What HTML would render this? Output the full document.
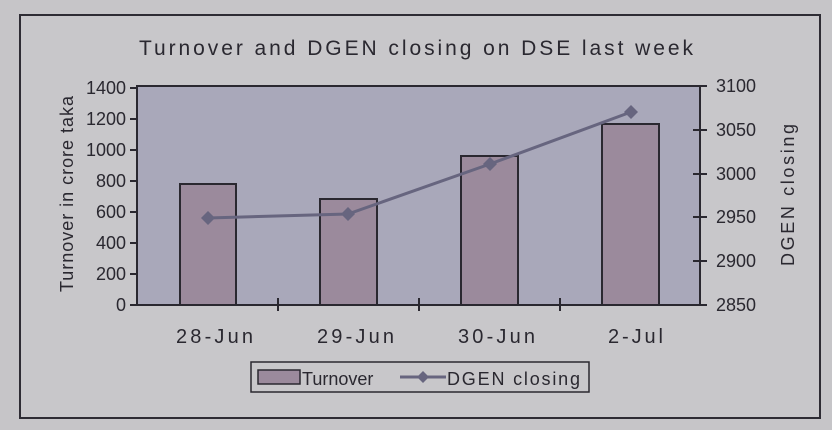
<!DOCTYPE html>
<html><head><meta charset="utf-8"><style>
html,body{margin:0;padding:0;background:#c6c5c8;}
svg{display:block;font-family:"Liberation Sans",sans-serif;}
</style></head><body>
<svg width="832" height="430" viewBox="0 0 832 430">
<rect width="832" height="430" fill="#c6c5c8"/>
<rect x="20" y="15" width="800" height="403" fill="#c8c7ca" stroke="#2e2c34" stroke-width="2"/>
<text x="139" y="55" font-size="21" textLength="554" lengthAdjust="spacing" fill="#2a2830">Turnover and DGEN closing on DSE last week</text>
<rect x="137" y="86" width="563" height="219" fill="#a9a8ba" stroke="#2a2830" stroke-width="2"/>
<g fill="#9b8a9c" stroke="#2a2830" stroke-width="2">
<rect x="180" y="184" width="56" height="121"/>
<rect x="320" y="199" width="57" height="106"/>
<rect x="461" y="156" width="57" height="149"/>
<rect x="602" y="124" width="57" height="181"/>
</g>
<polyline points="208,218 348,214 490,164 631,112" fill="none" stroke="#67657f" stroke-width="3"/>
<g fill="#67657f">
<path d="M208,211 l7,7 l-7,7 l-7,-7z"/><path d="M348,207 l7,7 l-7,7 l-7,-7z"/>
<path d="M490,157 l7,7 l-7,7 l-7,-7z"/><path d="M631,105 l7,7 l-7,7 l-7,-7z"/>
</g>
<g stroke="#2a2830" stroke-width="2">
<line x1="130" y1="88" x2="137" y2="88"/><line x1="130" y1="119" x2="137" y2="119"/><line x1="130" y1="150" x2="137" y2="150"/><line x1="130" y1="181" x2="137" y2="181"/><line x1="130" y1="212" x2="137" y2="212"/><line x1="130" y1="243" x2="137" y2="243"/><line x1="130" y1="274" x2="137" y2="274"/><line x1="130" y1="305" x2="137" y2="305"/>
<line x1="700" y1="86" x2="707" y2="86"/><line x1="693" y1="130" x2="707" y2="130"/><line x1="693" y1="174" x2="707" y2="174"/><line x1="693" y1="217" x2="707" y2="217"/><line x1="693" y1="261" x2="707" y2="261"/><line x1="700" y1="305" x2="707" y2="305"/>
<line x1="278" y1="298" x2="278" y2="311"/><line x1="419" y1="298" x2="419" y2="311"/><line x1="560" y1="298" x2="560" y2="311"/>
</g>
<g font-size="18" fill="#2a2830" text-anchor="end">
<text x="126" y="94">1400</text><text x="126" y="125">1200</text><text x="126" y="156">1000</text><text x="126" y="187">800</text><text x="126" y="218">600</text><text x="126" y="249">400</text><text x="126" y="280">200</text><text x="126" y="311">0</text>
</g>
<g font-size="18" fill="#2a2830">
<text x="716" y="92">3100</text><text x="716" y="136">3050</text><text x="716" y="180">3000</text><text x="716" y="223">2950</text><text x="716" y="267">2900</text><text x="716" y="311">2850</text>
</g>
<g font-size="20" fill="#2a2830">
<text x="176" y="343" textLength="77" lengthAdjust="spacing">28-Jun</text><text x="317" y="343" textLength="77" lengthAdjust="spacing">29-Jun</text><text x="458" y="343" textLength="77" lengthAdjust="spacing">30-Jun</text><text x="608" y="343" textLength="55" lengthAdjust="spacing">2-Jul</text>
</g>
<text transform="translate(73,292) rotate(-90)" font-size="18" fill="#2a2830" textLength="196" lengthAdjust="spacing">Turnover in crore taka</text>
<text transform="translate(794,266) rotate(-90)" font-size="18" fill="#2a2830" textLength="142" lengthAdjust="spacing">DGEN closing</text>
<rect x="251" y="362" width="338" height="30" fill="#c8c7ca" stroke="#2a2830" stroke-width="1.5"/>
<rect x="258" y="370" width="42" height="14" fill="#9b8a9c" stroke="#2a2830" stroke-width="1.5"/>
<text x="302" y="385" font-size="18" fill="#2a2830">Turnover</text>
<line x1="400" y1="377" x2="446" y2="377" stroke="#67657f" stroke-width="3"/>
<path d="M423,371 l6,6 l-6,6 l-6,-6z" fill="#67657f"/>
<text x="447" y="385" font-size="18" fill="#2a2830" textLength="133" lengthAdjust="spacing">DGEN closing</text>
</svg>
</body></html>
